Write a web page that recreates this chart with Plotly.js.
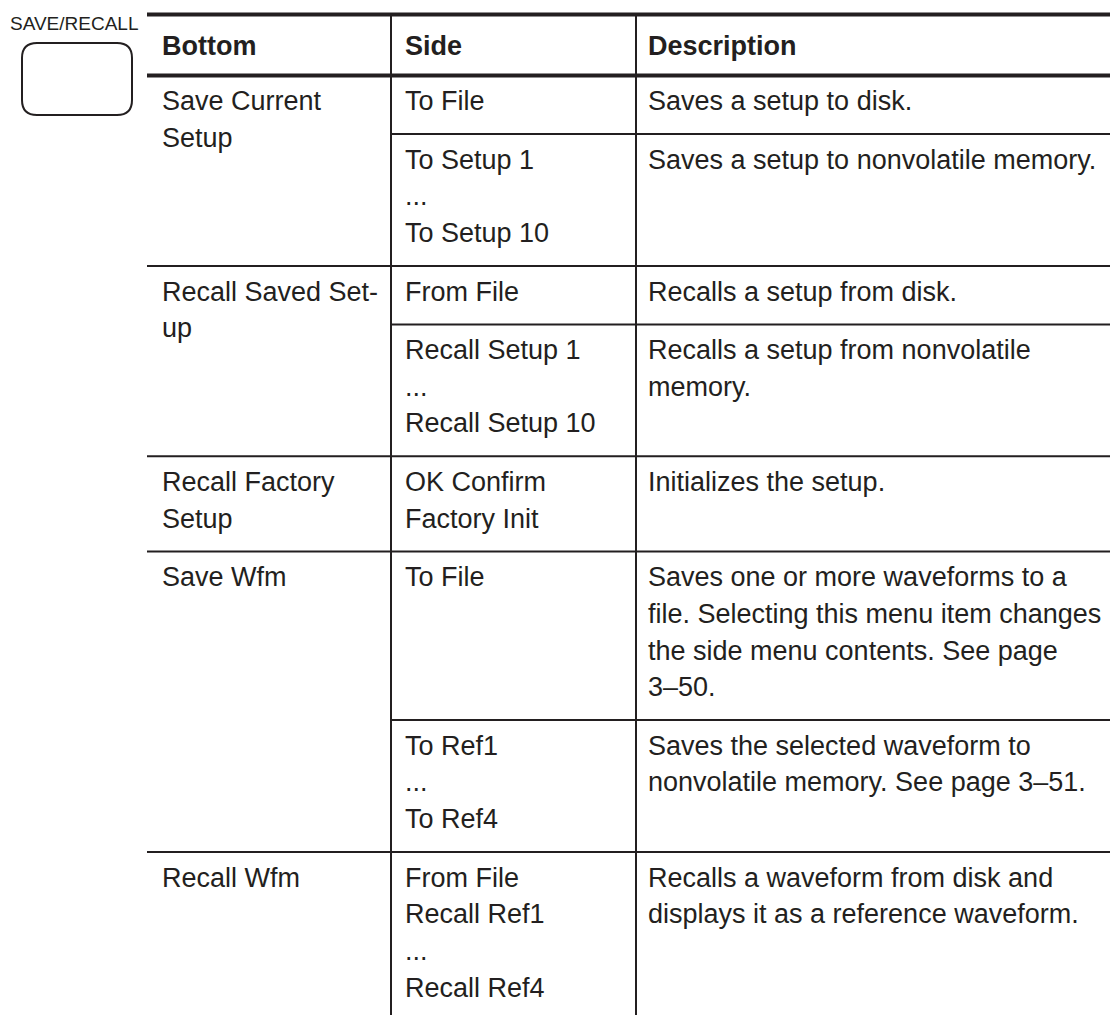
<!DOCTYPE html>
<html>
<head>
<meta charset="utf-8">
<script src="https://cdn.plot.ly/plotly-3.0.1.min.js"></script>
<style>
html,body{margin:0;padding:0;background:#fff;}
#chart{width:1110px;height:1015px;}
</style>
</head>
<body>
<div id="chart"></div>
<script>
// ---- table content ----
const panelLabel = "SAVE/RECALL";
const headers = ["Bottom", "Side", "Description"];
const bottomItems = [
  ["Save Current", "Setup"],
  ["Recall Saved Set-", "up"],
  ["Recall Factory", "Setup"],
  ["Save Wfm"],
  ["Recall Wfm"]
];
const sideItems = [
  [["To File"], ["To Setup 1", "...", "To Setup 10"]],
  [["From File"], ["Recall Setup 1", "...", "Recall Setup 10"]],
  [["OK Confirm", "Factory Init"]],
  [["To File"], ["To Ref1", "...", "To Ref4"]],
  [["From File", "Recall Ref1", "...", "Recall Ref4"]]
];
const descItems = [
  [["Saves a setup to disk."], ["Saves a setup to nonvolatile memory."]],
  [["Recalls a setup from disk."], ["Recalls a setup from nonvolatile", "memory."]],
  [["Initializes the setup."]],
  [["Saves one or more waveforms to a", "file. Selecting this menu item changes", "the side menu contents. See page", "3–50."],
   ["Saves the selected waveform to", "nonvolatile memory. See page 3–51."]],
  [["Recalls a waveform from disk and", "displays it as a reference waveform."]]
];

// ---- layout geometry (pixels, 1:1 axes) ----
const W = 1110, H = 1015;
const INK = "#231f20";
const FONT = "Liberation Sans, Arial, Helvetica, sans-serif";
const FS = 27;
const colLeft = 147, colDiv = [391, 636], colRight = W;
const textX = [162, 405, 648];
const topLine = 14.5, headLine = 75.5;
const LH = 36.7, PAD = 21.8, FIRST = 35;
const BASE_OFF = 0.347 * FS; // baseline -> bbox middle
const XPAD = 2;

const shapes = [];
const annotations = [];

function hline(y, x0, x1, w) {
  shapes.push({type: "line", xref: "x", yref: "y", x0: x0, x1: x1, y0: y, y1: y,
               line: {color: INK, width: w}});
}
function vline(x, y0, y1, w) {
  shapes.push({type: "line", xref: "x", yref: "y", x0: x, x1: x, y0: y0, y1: y1,
               line: {color: INK, width: w}});
}
function textLines(lines, x, firstBaseline, bold, size) {
  const fs = size || FS;
  lines.forEach((t, i) => {
    const base = firstBaseline + i * LH;
    annotations.push({
      xref: "x", yref: "y", x: x - XPAD, y: base - 0.347 * fs,
      xanchor: "left", yanchor: "middle", showarrow: false,
      text: bold ? "<b>" + t + "</b>" : t,
      font: {family: FONT, size: fs, color: INK},
      align: "left"
    });
  });
}

// header
hline(topLine, colLeft, colRight, 4);
hline(headLine, colLeft, colRight, 4);
headers.forEach((h, c) => textLines([h], textX[c], 55, true));

// body rows
let y = headLine;
bottomItems.forEach((b, r) => {
  const rowTop = y;
  textLines(b, textX[0], rowTop + FIRST);
  sideItems[r].forEach((sLines, k) => {
    const dLines = descItems[r][k];
    const n = Math.max(sLines.length, dLines.length);
    textLines(sLines, textX[1], y + FIRST);
    textLines(dLines, textX[2], y + FIRST);
    y += PAD + LH * n;
    if (k < sideItems[r].length - 1) hline(y, colDiv[0], colRight, 2);
  });
  hline(y, colLeft, colRight, 2);
});
vline(colDiv[0], topLine, y, 2);
vline(colDiv[1], topLine, y, 2);

// front-panel button + label
textLines([panelLabel], 10, 30, false, 19);
const bx0 = 22, bx1 = 132, by0 = 43, by1 = 115, rr = 15;
shapes.push({
  type: "path", xref: "x", yref: "y",
  path: `M ${bx0 + rr} ${by0} L ${bx1 - rr} ${by0} Q ${bx1} ${by0} ${bx1} ${by0 + rr} ` +
        `L ${bx1} ${by1 - rr} Q ${bx1} ${by1} ${bx1 - rr} ${by1} ` +
        `L ${bx0 + rr} ${by1} Q ${bx0} ${by1} ${bx0} ${by1 - rr} ` +
        `L ${bx0} ${by0 + rr} Q ${bx0} ${by0} ${bx0 + rr} ${by0} Z`,
  line: {color: INK, width: 2}
});

const layout = {
  width: W, height: H,
  margin: {l: 0, r: 0, t: 0, b: 0, pad: 0},
  paper_bgcolor: "#ffffff", plot_bgcolor: "#ffffff",
  xaxis: {range: [0, W], visible: false, fixedrange: true},
  yaxis: {range: [H, 0], visible: false, fixedrange: true},
  showlegend: false,
  hovermode: false,
  shapes: shapes,
  annotations: annotations
};

Plotly.newPlot("chart", [{x: [], y: [], type: "scatter", mode: "markers", hoverinfo: "skip"}],
  layout, {displayModeBar: false, staticPlot: true});
</script>
</body>
</html>
